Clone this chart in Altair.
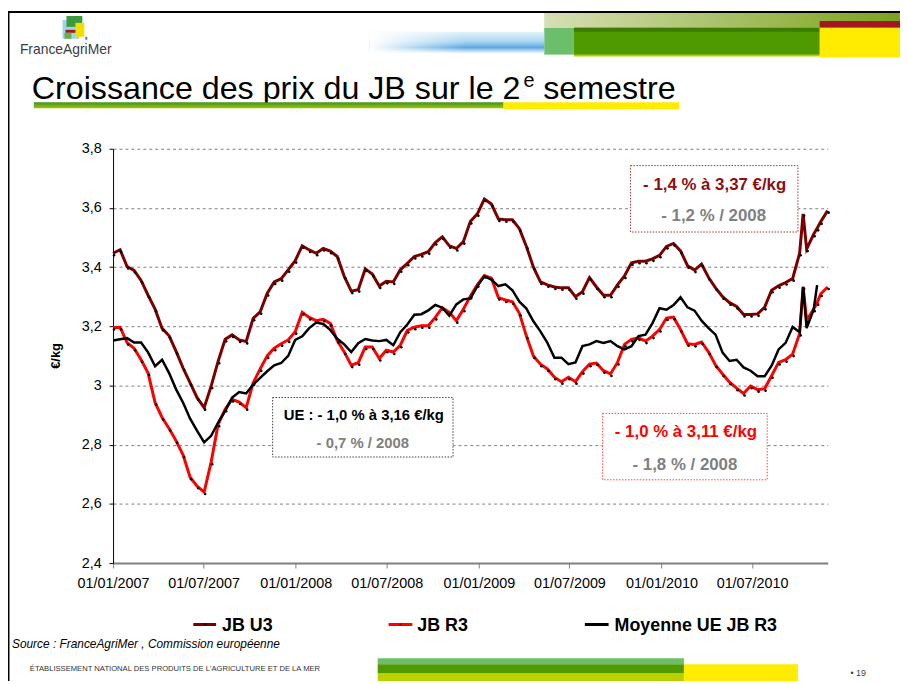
import altair as alt
import pandas as pd

# ------------------------------------------------------------------ data
# weekly index since 01/01/2007 (values read every two weeks, plus a few extra weeks at the end)
weeks = list(range(0, 197, 2)) + [197, 198, 200, 201, 202, 204]

jb_u3 = [
    3.447, 3.459, 3.402, 3.389, 3.355, 3.305, 3.258, 3.193, 3.168, 3.115,
    3.059, 3.009, 2.959, 2.925, 2.998, 3.082, 3.156, 3.171, 3.154, 3.149,
    3.227, 3.249, 3.311, 3.350, 3.361, 3.391, 3.422, 3.472, 3.458, 3.447,
    3.463, 3.454, 3.436, 3.369, 3.319, 3.324, 3.394, 3.377, 3.336, 3.352,
    3.350, 3.391, 3.413, 3.436, 3.443, 3.452, 3.483, 3.502, 3.472, 3.463,
    3.486, 3.554, 3.580, 3.630, 3.613, 3.563, 3.560, 3.560, 3.530, 3.470,
    3.400, 3.350, 3.340, 3.333, 3.330, 3.330, 3.300, 3.317, 3.365, 3.333,
    3.305, 3.305, 3.340, 3.370, 3.415, 3.420, 3.420, 3.428, 3.440, 3.470,
    3.480, 3.455, 3.405, 3.390, 3.410, 3.365, 3.330, 3.300, 3.280, 3.267,
    3.240, 3.240, 3.242, 3.264, 3.322, 3.337, 3.348, 3.361, 3.447,
    3.580, 3.461, 3.511, 3.531, 3.553, 3.591,
]

jb_r3 = [
    3.196, 3.197, 3.145, 3.126, 3.087, 3.042, 2.942, 2.892, 2.855, 2.813,
    2.765, 2.690, 2.660, 2.640, 2.741, 2.869, 2.920, 2.953, 2.944, 2.925,
    3.009, 3.056, 3.100, 3.126, 3.141, 3.154, 3.182, 3.247, 3.230, 3.219,
    3.224, 3.210, 3.152, 3.113, 3.069, 3.077, 3.130, 3.130, 3.091, 3.119,
    3.113, 3.136, 3.186, 3.197, 3.202, 3.202, 3.230, 3.263, 3.247, 3.219,
    3.258, 3.302, 3.341, 3.372, 3.363, 3.297, 3.289, 3.283, 3.244, 3.167,
    3.100, 3.072, 3.056, 3.028, 3.013, 3.028, 3.013, 3.047, 3.072, 3.076,
    3.050, 3.039, 3.078, 3.139, 3.156, 3.161, 3.150, 3.167, 3.189, 3.228,
    3.231, 3.189, 3.141, 3.139, 3.147, 3.113, 3.069, 3.039, 3.011, 2.991,
    2.973, 2.998, 2.986, 2.989, 3.033, 3.078, 3.087, 3.106, 3.176,
    3.333, 3.220, 3.258, 3.280, 3.309, 3.333,
]

ue_r3 = [
    3.152, 3.156, 3.160, 3.145, 3.145, 3.112, 3.065, 3.087, 3.042, 2.987,
    2.942, 2.888, 2.847, 2.808, 2.830, 2.875, 2.914, 2.959, 2.978, 2.973,
    3.003, 3.026, 3.048, 3.068, 3.076, 3.100, 3.154, 3.166, 3.194, 3.213,
    3.208, 3.188, 3.158, 3.139, 3.113, 3.143, 3.157, 3.152, 3.150, 3.154,
    3.136, 3.180, 3.206, 3.239, 3.241, 3.254, 3.272, 3.263, 3.236, 3.274,
    3.291, 3.294, 3.336, 3.369, 3.358, 3.336, 3.342, 3.322, 3.283, 3.260,
    3.217, 3.183, 3.144, 3.094, 3.094, 3.072, 3.078, 3.133, 3.139, 3.150,
    3.144, 3.150, 3.133, 3.122, 3.133, 3.167, 3.172, 3.211, 3.261, 3.256,
    3.272, 3.298, 3.264, 3.253, 3.219, 3.194, 3.172, 3.111, 3.083, 3.087,
    3.061, 3.050, 3.031, 3.031, 3.067, 3.122, 3.144, 3.198, 3.180,
    3.333, 3.194, 3.256, 3.339, None, None,
]

series_names = ["JB U3", "JB R3", "Moyenne UE JB R3"]
series_colors = ["#7a0000", "#ff0000", "#000000"]
x_tick_dates = ["2007-01-01", "2007-07-01", "2008-01-01", "2008-07-01",
                "2009-01-01", "2009-07-01", "2010-01-01", "2010-07-01"]
x_start, x_end = "2007-01-01", "2010-11-29"
y_ticks = [2.4, 2.6, 2.8, 3.0, 3.2, 3.4, 3.6, 3.8]

# ------------------------------------------------------------------ table
start = pd.Timestamp(x_start)
dates = [(start + pd.Timedelta(days=7 * w)).strftime("%Y-%m-%d") for w in weeks]
rows = []
for name, vals in zip(series_names, [jb_u3, jb_r3, ue_r3]):
    for d, v in zip(dates, vals):
        if v is not None:
            rows.append({"date": d, "serie": name, "prix": v})
df = pd.DataFrame(rows)


def dt(s):
    y, m, d = (int(p) for p in s.split("-"))
    return alt.DateTime(year=y, month=m, date=d, utc=True)


X = alt.X("date:T",
          scale=alt.Scale(type="utc", domain=[dt(x_start), dt(x_end)], nice=False),
          axis=alt.Axis(values=[dt(s) for s in x_tick_dates],
                        labelExpr="utcFormat(datum.value, '%d/%m/%Y')",
                        title=None, grid=False,
                        domainColor="#7f7f7f", domainWidth=2, tickColor="#7f7f7f",
                        tickSize=5, tickWidth=1, labelPadding=9, labelFontSize=14.5,
                        labelFont="Liberation Sans", labelColor="#000000",
                        labelFlush=False, labelOverlap=False))
Y = alt.Y("prix:Q",
          scale=alt.Scale(domain=[2.4, 3.8], nice=False, zero=False),
          axis=alt.Axis(values=y_ticks,
                        labelExpr="replace(format(datum.value, '.1~f'), '.', ',')",
                        title=None, grid=True, gridColor="#808080", gridDash=[3, 3],
                        gridWidth=1, domainColor="#000000", domainWidth=1,
                        tickColor="#000000", tickSize=4, labelPadding=8,
                        labelFontSize=14.5, labelFont="Liberation Sans",
                        labelColor="#000000", labelFlush=False, labelOverlap=False))

base = alt.Chart(df)


def series_line(name, color, width):
    return base.transform_filter(alt.datum.serie == name).mark_line(
        color=color, strokeWidth=width).encode(x=X, y=Y)


def series_dots(name):
    return base.transform_filter(alt.datum.serie == name).mark_circle(
        color="#000000", size=7, opacity=1, xOffset=1, yOffset=2).encode(x=X, y=Y)


# ------------------------------------------------------------------ slide decoration helpers
OX, OY = 114, 147  # page position of the plot origin
ONE = alt.Data(values=[{"k": 0}])


def rect(x1, y1, x2, y2, color):
    return alt.Chart(ONE).mark_rect(color=color).encode(
        x=alt.value(x1 - OX), x2=alt.value(x2 - OX),
        y=alt.value(y1 - OY), y2=alt.value(y2 - OY))


def box(x1, y1, x2, y2, stroke):
    return alt.Chart(ONE).mark_rect(fill="#ffffff", stroke=stroke, strokeWidth=1,
                                    strokeDash=[1.5, 1.5]).encode(
        x=alt.value(x1 - OX), x2=alt.value(x2 - OX),
        y=alt.value(y1 - OY), y2=alt.value(y2 - OY))


def label(s, x, y, size, color="#000000", weight="normal", align="left",
          style="normal", angle=0, baseline="alphabetic"):
    return alt.Chart(ONE).mark_text(text=s, fontSize=size, color=color, fontWeight=weight,
                                    align=align, baseline=baseline, fontStyle=style,
                                    angle=angle, font="Liberation Sans").encode(
        x=alt.value(x - OX), y=alt.value(y - OY))


def seg(x1, x2, y, color, width):
    return alt.Chart(ONE).mark_rule(color=color, strokeWidth=width).encode(
        x=alt.value(x1 - OX), x2=alt.value(x2 - OX), y=alt.value(y - OY))


def dot(x, y, color, size):
    return alt.Chart(ONE).mark_circle(color=color, size=size, opacity=1).encode(
        x=alt.value(x - OX), y=alt.value(y - OY))


def hgrad(c1, c2):
    return alt.LinearGradient(gradient="linear", x1=0, x2=1, y1=0, y2=0,
                              stops=[alt.GradientStop(color=c1, offset=0),
                                     alt.GradientStop(color=c2, offset=1)])


def vgrad(stops):
    return alt.LinearGradient(gradient="linear", x1=0, x2=0, y1=0, y2=1,
                              stops=[alt.GradientStop(color=c, offset=o) for c, o in stops])


deco = [
    # slide frame
    rect(8, 8, 908, 10, "#000000"),
    rect(8, 8, 9.5, 684, "#000000"),
    # header bands
    rect(549, 10, 908, 25, hgrad("#d6dfb5", "#7ba31c")),
    rect(827, 18, 908, 25, "#a3181e"),
    rect(549, 25, 579, 52, "#6bbf6b"),
    rect(579, 25, 827, 54, "#b9cc00"),
    rect(579, 25, 827, 52, "#4e9a00"),
    rect(579, 25, 827, 29, "#3b7d00"),
    rect(827, 25, 908, 55, "#ffec00"),
    rect(373, 29, 549, 51, vgrad([("#e4f2fa", 0), ("#a9d5f2", 0.45),
                                  ("#5ea9e2", 0.72), ("#ffffff", 1)])),
    rect(373, 29, 470, 51, hgrad("rgba(255,255,255,1)", "rgba(255,255,255,0)")),
    # logo
    rect(63, 17, 80, 36, "#9fd3ee"),
    rect(67, 13, 83, 24, "#3c9a3c"),
    rect(76, 20, 85, 34, "#f0e000"),
    rect(66, 27, 76, 30, "#a01c1c"),
    rect(65, 30, 72, 36, "#66b04a"),
    rect(86, 34, 88, 37, "#3a80c0"),
    label("FranceAgriMer", 20, 51, 14, color="#3c3c3c"),
    # title
    label("Croissance des prix du JB sur le 2", 525, 97, 32.5, align="right"),
    label("e", 528, 85, 20),
    label("semestre", 548, 97, 32.5),
    rect(34, 100, 508, 106, vgrad([("#3f9126", 0), ("#9ec400", 1)])),
    rect(508, 100, 685, 107, "#ffec00"),
    # footer
    rect(381, 661, 690, 667, "#6bbf6b"),
    rect(381, 667, 690, 676, "#4e9a00"),
    rect(381, 676, 690, 684, "#bccf00"),
    rect(690, 667, 805, 684, "#ffec00"),
    label("ÉTABLISSEMENT NATIONAL DES PRODUITS DE L'AGRICULTURE ET DE LA MER",
          30, 674, 7.7, color="#333333"),
    label("• 19", 858, 679, 9, color="#404040"),
    label("Source : FranceAgriMer , Commission européenne", 12, 651, 12, style="italic"),
    # legend
    seg(195, 218, 627, series_colors[0], 3), dot(207, 627, "#3a0000", 10),
    label("JB U3", 224, 633.5, 18, weight="bold"),
    seg(392, 416, 627, series_colors[1], 3), dot(404, 627, "#c00000", 10),
    label("JB R3", 421, 633.5, 18, weight="bold"),
    seg(590, 614, 627, series_colors[2], 3),
    label("Moyenne UE JB R3", 620, 633.5, 18, weight="bold"),
    # y axis title
    label("€/kg", 56, 356, 13, weight="bold", angle=270, align="center", baseline="middle"),
]

data_layers = [
    series_line("JB U3", series_colors[0], 3), series_dots("JB U3"),
    series_line("JB R3", series_colors[1], 3), series_dots("JB R3"),
    series_line("Moyenne UE JB R3", series_colors[2], 2.5),
]

notes = [
    box(636, 164, 805, 231, "#a03030"),
    label("- 1,4 % à 3,37 €/kg", 721, 189, 17, color="#8c1010", weight="bold", align="center"),
    label("- 1,2 % / 2008", 720, 220, 17, color="#808080", weight="bold", align="center"),
    box(275, 398, 457, 458, "#404040"),
    label("UE : - 1,0 % à 3,16 €/kg", 367, 421, 15, weight="bold", align="center"),
    label("- 0,7 % / 2008", 366, 449, 15, color="#808080", weight="bold", align="center"),
    box(608, 414, 774, 481, "#ff4040"),
    label("- 1,0 % à 3,11 €/kg", 692, 438, 17, color="#ff0000", weight="bold", align="center"),
    label("- 1,8 % / 2008", 691, 471, 17, color="#808080", weight="bold", align="center"),
]

chart = alt.layer(*deco, *data_layers, *notes).properties(
    width=721, height=418,
    autosize=alt.AutoSizeParams(type="none"),
    padding={"left": 106, "top": 139, "right": 73, "bottom": 119},
    background="white",
).configure_view(strokeOpacity=0)

chart.save("out.html", embed_options={"renderer": "svg", "actions": False})
